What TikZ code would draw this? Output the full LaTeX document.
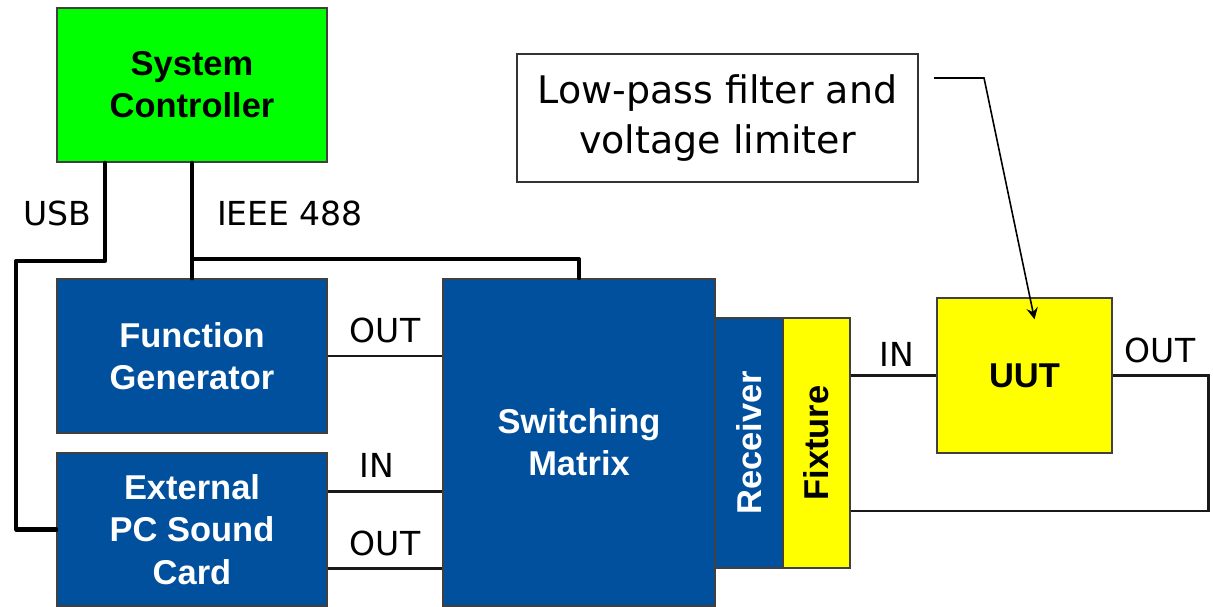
\documentclass[tikz,border=0pt]{standalone}
\usepackage{fontspec}
\setmainfont{Liberation Sans}
\newfontfamily\tahoma{DejaVu Sans}
\definecolor{azul}{RGB}{0,80,158}
\definecolor{verde}{RGB}{0,255,0}
\definecolor{amarillo}{RGB}{255,255,0}
\tikzset{
  bloque/.style={draw=black!75, line width=0.4pt, fill=azul, text=white, inner sep=0pt,
    align=center, font=\bfseries\fontsize{9.8}{12}\selectfont},
  etiq/.style={font=\tahoma\fontsize{9.4}{11}\selectfont, inner sep=0pt},
  bus/.style={line width=1.15pt, line cap=round, line join=round},
  senal/.style={line width=0.75pt, draw=black!90}
}
\begin{document}
\begin{tikzpicture}[x=0.01cm, y=-0.01cm]
    \useasboundingbox (0,0) rectangle (1213,606);

    % Definir los bloques
    \node[bloque, fill=verde, text=black, minimum width=2.70cm, minimum height=1.54cm] (ctrl) at (192,85) {System\\Controller};
    \node[bloque, minimum width=2.70cm, minimum height=1.54cm] (fgen) at (192,356) {Function\\Generator};
    \node[bloque, minimum width=2.70cm, minimum height=1.53cm] (sound) at (192,529.5) {External\\PC Sound\\Card};
    \node[bloque, minimum width=2.72cm, minimum height=3.27cm] (matrix) at (579,442.5) {Switching\\Matrix};
    \node[bloque, rotate=90, minimum width=2.50cm, minimum height=0.68cm] (recv) at (749,443) {Receiver};
    \node[bloque, rotate=90, fill=amarillo, text=black, minimum width=2.50cm, minimum height=0.67cm] (fix) at (816.5,443) {Fixture};
    \node[bloque, fill=amarillo, text=black, minimum width=1.75cm, minimum height=1.55cm] (uut) at (1024.5,375.5) {UUT};
    \node[draw=black!80, line width=0.5pt, fill=white, align=center, inner sep=0pt,
      minimum width=4.01cm, minimum height=1.28cm, font=\tahoma\fontsize{10.8}{14.2}\selectfont] (nota) at (717.5,118) {Low-pass filter and\\voltage limiter};

    % Buses de control
    \draw[bus] ([xshift=0.49cm]ctrl.south west) -- ++(0,98) -- ++(-89,0) |- (sound.west);
    \draw[bus] (ctrl.south) -- (fgen.north);
    \draw[bus] (fgen.north) -- ++(0,-19) -| (matrix.north);

    % Conexiones de senal
    \draw[senal] (fgen.east) -- (fgen.east -| matrix.west);
    \draw[senal] ([yshift=0.38cm]sound.east) -- ([yshift=0.38cm]sound.east -| matrix.west);
    \draw[senal] ([yshift=-0.39cm]sound.east) -- ([yshift=-0.39cm]sound.east -| matrix.west);
    \draw[senal] (uut.west -| fix.south) -- (uut.west);
    \draw[senal] (uut.east) -- ++(96,0) |- ([yshift=-0.68cm]fix.south);

    % Flecha de la nota
    \draw[line width=0.45pt, -stealth] ([shift={(0.15cm,0.40cm)}]nota.east) -- ++(50,0) -- ([shift={(0.10cm,-0.22cm)}]uut.north);

    % Etiquetas
    \node[etiq] (lusb) at (57,213) {USB};
    \node[etiq] (lieee) at (290,213) {IEEE 488};
    \node[etiq] (lout1) at (385,330) {OUT};
    \node[etiq] (lin1) at (377,465) {IN};
    \node[etiq] (lout2) at (385,543) {OUT};
    \node[etiq] (lin2) at (897,354) {IN};
    \node[etiq] (lout3) at (1160,350) {OUT};

\end{tikzpicture}
\end{document}
